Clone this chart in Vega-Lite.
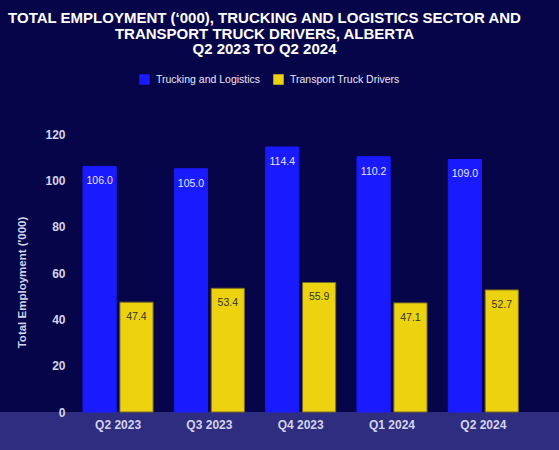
{
  "$schema": "https://vega.github.io/schema/vega-lite/v6.json",
  "description": "Total employment ('000), trucking and logistics sector and transport truck drivers, Alberta",
  "width": 559,
  "height": 278,
  "autosize": "none",
  "padding": {"top": 134, "left": 0, "right": 0, "bottom": 38},
  "background": "#07054a",
  "title": {
    "text": ["TOTAL EMPLOYMENT (‘000), TRUCKING AND LOGISTICS SECTOR AND", "TRANSPORT TRUCK DRIVERS, ALBERTA", "Q2 2023 TO Q2 2024"],
    "anchor": "middle",
    "dx": -15,
    "offset": 17,
    "fontSize": 15,
    "lineHeight": 15.5,
    "font": "Liberation Sans",
    "fontWeight": "bold",
    "color": "#ffffff"
  },
  "data": {
    "values": [
      {"quarter": "Q2 2023", "series": "Trucking and Logistics", "value": 106.0},
      {"quarter": "Q2 2023", "series": "Transport Truck Drivers", "value": 47.4},
      {"quarter": "Q3 2023", "series": "Trucking and Logistics", "value": 105.0},
      {"quarter": "Q3 2023", "series": "Transport Truck Drivers", "value": 53.4},
      {"quarter": "Q4 2023", "series": "Trucking and Logistics", "value": 114.4},
      {"quarter": "Q4 2023", "series": "Transport Truck Drivers", "value": 55.9},
      {"quarter": "Q1 2024", "series": "Trucking and Logistics", "value": 110.2},
      {"quarter": "Q1 2024", "series": "Transport Truck Drivers", "value": 47.1},
      {"quarter": "Q2 2024", "series": "Trucking and Logistics", "value": 109.0},
      {"quarter": "Q2 2024", "series": "Transport Truck Drivers", "value": 52.7}
    ]
  },
  "layer": [
    {
      "data": {"values": [{"band": "axis"}]},
      "mark": {"type": "rect", "color": "#2e2d80"},
      "encoding": {
        "y": {"datum": 0, "type": "quantitative", "title": "Total Employment ('000)"},
        "y2": {"datum": -17}
      }
    },
    {
      "mark": {"type": "bar", "strokeWidth": 1},
      "encoding": {
        "x": {
          "field": "quarter",
          "type": "nominal",
          "sort": null,
          "title": null,
          "scale": {"range": [72.4, 529], "paddingInner": 0.233, "paddingOuter": 0.1165},
          "axis": {"labelAngle": 0, "labelPadding": 7, "zindex": 1}
        },
        "xOffset": {
          "field": "series",
          "type": "nominal",
          "scale": {"domain": ["Trucking and Logistics", "Transport Truck Drivers"], "paddingInner": 0.1}
        },
        "y": {
          "field": "value",
          "type": "quantitative",
          "title": "Total Employment ('000)",
          "scale": {"domain": [0, 120], "nice": false},
          "axis": {"values": [0, 20, 40, 60, 80, 100, 120], "offset": -70, "labelPadding": 5, "titlePadding": 17, "titleY": 148, "grid": false, "zindex": 1}
        },
        "color": {
          "field": "series",
          "type": "nominal",
          "scale": {"domain": ["Trucking and Logistics", "Transport Truck Drivers"], "range": ["#1a1aff", "#edd30f"]},
          "legend": {
            "title": null,
            "orient": "none",
            "direction": "horizontal",
            "legendX": 139,
            "legendY": -60,
            "symbolType": "square",
            "symbolSize": 110,
            "symbolStrokeWidth": 0,
            "symbolOpacity": 1,
            "labelFontSize": 10.5,
            "labelColor": "#e8e8f8",
            "labelFont": "Liberation Sans",
            "labelOffset": 6,
            "columnPadding": 12
          }
        },
        "stroke": {
          "condition": {"test": "datum.series === 'Trucking and Logistics'", "value": "#1a1aff"},
          "value": "#7a6a1f"
        }
      }
    },
    {
      "mark": {"type": "text", "baseline": "middle", "dy": 15, "fontSize": 10.5, "font": "Liberation Sans"},
      "encoding": {
        "x": {"field": "quarter", "type": "nominal", "sort": null},
        "xOffset": {"field": "series", "type": "nominal"},
        "y": {"field": "value", "type": "quantitative"},
        "text": {"field": "value", "type": "quantitative", "format": ".1f"},
        "color": {
          "condition": {"test": "datum.series === 'Trucking and Logistics'", "value": "#e6e6ff"},
          "value": "#333333"
        }
      }
    }
  ],
  "config": {
    "view": {"stroke": null},
    "axis": {
      "domain": false,
      "ticks": false,
      "tickSize": 0,
      "labelFont": "Liberation Sans",
      "labelFontSize": 12,
      "labelFontWeight": "bold",
      "labelColor": "#d4d4ec",
      "titleFont": "Liberation Sans",
      "titleFontSize": 11.5,
      "titleFontWeight": "bold",
      "titleColor": "#d4d4ec"
    }
  }
}
